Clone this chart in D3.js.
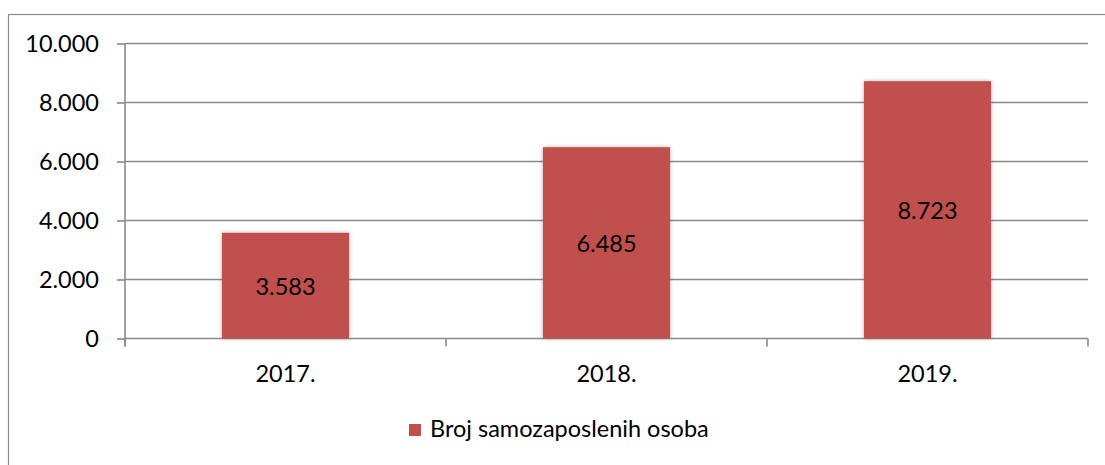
<!DOCTYPE html>
<html>
<head>
<meta charset="utf-8">
<script src="https://cdn.jsdelivr.net/npm/d3@7"></script>
<style>
  body { margin: 0; background: #fff; }
  svg { display: block; font-family: Lato, "Noto Sans", sans-serif; }
</style>
</head>
<body>
<svg id="chart" width="1105" height="465"></svg>
<script>
// Donnees.
const years = ["2017.", "2018.", "2019."];
const values = [3583, 6485, 8723];
const yTicks = [0, 2000, 4000, 6000, 8000, 10000];
const seriesName = "Broj samozaposlenih osoba";

const svg = d3.select("#chart");
const plot = { left: 125, right: 1088, top: 43.5, bottom: 338.5 };
const barColor = "#C0504D";
const gridColor = "#8a8a8a";
const fontSize = "23.5px";

// Ombre douce autour des barres.
const defs = svg.append("defs");
const shadow = defs.append("filter").attr("id", "barShadow")
    .attr("x", "-10%").attr("y", "-10%").attr("width", "120%").attr("height", "120%");
shadow.append("feDropShadow")
    .attr("dx", 0).attr("dy", 0).attr("stdDeviation", 2)
    .attr("flood-color", "#000").attr("flood-opacity", 0.3);

// Cadre exterieur (coupe a droite et en bas).
svg.append("rect")
    .attr("x", 8.5).attr("y", 14.5)
    .attr("width", 1110).attr("height", 470)
    .attr("fill", "none").attr("stroke", "#8c8c8c").attr("stroke-width", 1.2);

const x = d3.scaleBand()
    .domain(years)
    .range([plot.left, plot.right])
    .paddingInner(0.604)
    .paddingOuter(0.302);

const y = d3.scaleLinear()
    .domain([0, 10000])
    .range([plot.bottom, plot.top]);

const fmt = function(v) {
    return d3.format(",")(v).replace(/,/g, ".");
};

// Lignes de grille horizontales.
svg.append("g")
    .selectAll("line")
    .data(yTicks.filter(function(d) { return d > 0; }))
    .enter()
    .append("line")
    .attr("x1", plot.left)
    .attr("x2", plot.right)
    .attr("y1", function(d) { return y(d); })
    .attr("y2", function(d) { return y(d); })
    .attr("stroke", gridColor)
    .attr("stroke-width", 1.6);

// Axe vertical.
const yAxis = svg.append("g")
    .attr("transform", "translate(" + plot.left + ",0)")
    .call(d3.axisLeft(y).tickValues(yTicks).tickSize(8).tickPadding(18).tickFormat(fmt));
yAxis.select(".domain").remove();
yAxis.append("line")
    .attr("x1", 0).attr("x2", 0)
    .attr("y1", plot.top).attr("y2", plot.bottom + 8)
    .attr("stroke", gridColor).attr("stroke-width", 1.6);
yAxis.selectAll(".tick line").attr("stroke", gridColor).attr("stroke-width", 1.6);
yAxis.selectAll(".tick text")
    .attr("fill", "#000")
    .style("font-size", fontSize)
    .style("font-family", "Lato, 'Noto Sans', sans-serif");

// Axe horizontal avec graduations entre les categories.
const xAxis = svg.append("g");
xAxis.append("line")
    .attr("x1", plot.left).attr("x2", plot.right)
    .attr("y1", plot.bottom).attr("y2", plot.bottom)
    .attr("stroke", gridColor).attr("stroke-width", 1.6);
const boundaries = years.map(function(d) { return x(d) - x.step() * x.paddingInner() / 2; })
    .concat([plot.right]);
xAxis.selectAll(".xtick")
    .data(boundaries)
    .enter()
    .append("line")
    .attr("class", "xtick")
    .attr("x1", function(d) { return d; })
    .attr("x2", function(d) { return d; })
    .attr("y1", plot.bottom)
    .attr("y2", plot.bottom + 8)
    .attr("stroke", gridColor).attr("stroke-width", 1.6);
xAxis.selectAll(".xlabel")
    .data(years)
    .enter()
    .append("text")
    .attr("class", "xlabel")
    .attr("x", function(d) { return x(d) + x.bandwidth() / 2; })
    .attr("y", plot.bottom + 35)
    .attr("dy", "0.35em")
    .attr("text-anchor", "middle")
    .style("font-size", fontSize)
    .text(function(d) { return d; });

// Barres.
const data = years.map(function(d, i) { return { year: d, value: values[i] }; });
svg.append("g")
    .selectAll("rect")
    .data(data)
    .enter()
    .append("rect")
    .attr("x", function(d) { return x(d.year); })
    .attr("y", function(d) { return y(d.value); })
    .attr("width", x.bandwidth())
    .attr("height", function(d) { return y(0) - y(d.value); })
    .attr("fill", barColor)
    .attr("filter", "url(#barShadow)");

// Etiquettes des valeurs au milieu des barres.
svg.append("g")
    .selectAll("text")
    .data(data)
    .enter()
    .append("text")
    .attr("x", function(d) { return x(d.year) + x.bandwidth() / 2; })
    .attr("y", function(d) { return (y(d.value) + y(0)) / 2 + 1; })
    .attr("dy", "0.35em")
    .attr("text-anchor", "middle")
    .style("font-size", fontSize)
    .text(function(d) { return fmt(d.value); });

// Legende.
const legend = svg.append("g").attr("transform", "translate(409,424)");
legend.append("rect")
    .attr("width", 12).attr("height", 12)
    .attr("fill", barColor);
legend.append("text")
    .attr("x", 21).attr("y", 5)
    .attr("dy", "0.35em")
    .style("font-size", fontSize)
    .text(seriesName);
</script>
</body>
</html>
